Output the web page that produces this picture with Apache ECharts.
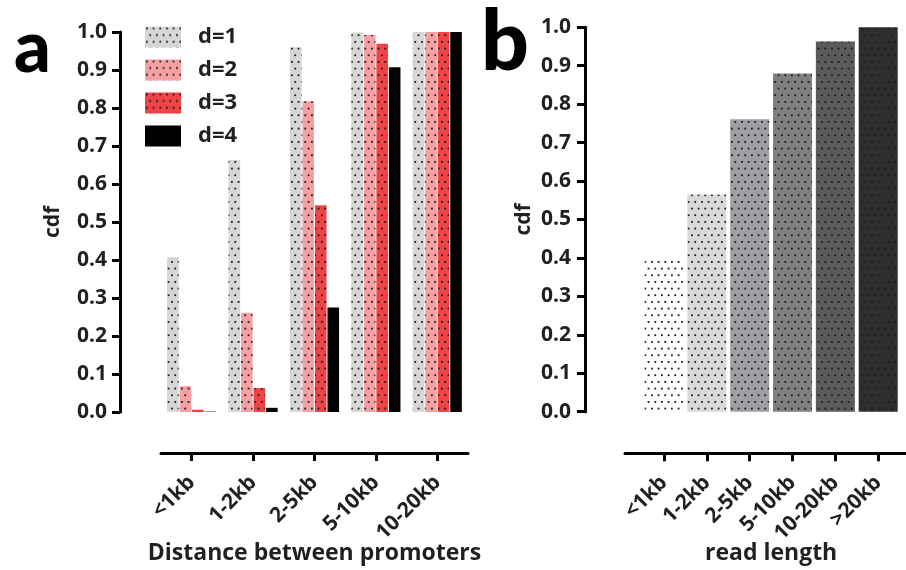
<!DOCTYPE html>
<html>
<head>
<meta charset="utf-8">
<script src="https://cdn.jsdelivr.net/npm/echarts@6/dist/echarts.min.js"></script>
<style>
  html, body { margin: 0; padding: 0; background: #fff; }
  #chart { width: 906px; height: 570px; }
</style>
</head>
<body>
<div id="chart"></div>
<script>
// Panel a: cumulative distribution by promoter distance, one series per d
const distanceCats = ['<1kb', '1-2kb', '2-5kb', '5-10kb', '10-20kb'];
const cdfD1 = [0.407, 0.663, 0.960, 0.999, 1.000];
const cdfD2 = [0.068, 0.261, 0.818, 0.992, 1.000];
const cdfD3 = [0.006, 0.063, 0.544, 0.969, 1.000];
const cdfD4 = [0.001, 0.011, 0.275, 0.907, 1.000];
const seriesNames = ['d=1', 'd=2', 'd=3', 'd=4'];

// Panel b: cumulative distribution by read length
const readCats = ['<1kb', '1-2kb', '2-5kb', '5-10kb', '10-20kb', '>20kb'];
const cdfRead = [0.396, 0.565, 0.761, 0.880, 0.963, 1.000];

// Fill shades
const shadesA = ['#d6d6d6', '#f5a1a3', '#ee4447', '#000000'];
const shadesB = ['#ffffff', '#d9d9d9', '#9e9ea3', '#808080', '#5b5b5c', '#2e2e2e'];

const FONT = '"Open Sans"';
const INK = '#231f20';

// Staggered dot texture over a solid background
function dotted(bg) {
  const c = document.createElement('canvas');
  c.width = 20; c.height = 40;
  const g = c.getContext('2d');
  g.fillStyle = bg;
  g.fillRect(0, 0, 20, 40);
  g.fillStyle = '#1c1c1c';
  const step = 20 / 3;
  for (let r = 0; r < 6; r++) {
    const y = 1 + r * step;
    const off = (r % 2) ? step / 2 : 0;
    for (let k = 0; k < 3; k++) {
      const x = 1 + off + k * step;
      g.fillRect(x, y, 1.8, 1.8);
    }
  }
  return { image: c, repeat: 'repeat' };
}

const fillA = [dotted(shadesA[0]), dotted(shadesA[1]), dotted(shadesA[2]), shadesA[3]];
const seriesA = [cdfD1, cdfD2, cdfD3, cdfD4].map((vals, i) => ({
  name: seriesNames[i],
  type: 'bar',
  xAxisIndex: 0,
  yAxisIndex: 0,
  data: vals,
  barGap: '8%',
  barCategoryGap: '20%',
  itemStyle: { color: fillA[i] },
  emphasis: { disabled: true }
}));

const seriesB = {
  type: 'bar',
  xAxisIndex: 1,
  yAxisIndex: 1,
  barCategoryGap: '9%',
  data: cdfRead.map((v, i) => ({ value: v, itemStyle: { color: dotted(shadesB[i]) } })),
  emphasis: { disabled: true }
};

const axisPen = { color: '#000', width: 3 };

function yAxisFor(grid, offset, gap, margin) {
  return {
    type: 'value',
    gridIndex: grid,
    offset: offset,
    min: 0,
    max: 1,
    interval: 0.1,
    axisLine: { show: true, onZero: false, lineStyle: axisPen },
    axisTick: { show: true, length: 8, lineStyle: axisPen },
    splitLine: { show: false },
    name: 'cdf',
    nameLocation: 'middle',
    nameRotate: 90,
    nameGap: gap,
    nameMoveOverlap: false,
    nameTextStyle: { fontFamily: FONT, fontWeight: 'bold', fontSize: 21, color: INK },
    axisLabel: {
      margin: margin,
      fontFamily: FONT, fontWeight: 'bold', fontSize: 21, color: INK,
      formatter: v => v.toFixed(1)
    }
  };
}

function xAxisFor(grid, cats, offset, title, showLine) {
  return {
    type: 'category',
    gridIndex: grid,
    data: cats,
    position: 'bottom',
    offset: offset,
    axisLine: { show: showLine, onZero: false, lineStyle: axisPen },
    axisTick: { show: true, alignWithLabel: true, length: 8, lineStyle: axisPen },
    name: title,
    nameLocation: 'middle',
    nameGap: 89,
    nameMoveOverlap: false,
    nameTextStyle: { fontFamily: FONT, fontWeight: 'bold', fontSize: 23, color: INK },
    axisLabel: {
      rotate: 45, interval: 0, margin: 26, padding: [6, 0, 0, 0],
      fontFamily: FONT, fontWeight: 'bold', fontSize: 21, color: INK
    }
  };
}

const chart = echarts.init(document.getElementById('chart'), null, { renderer: 'canvas' });
chart.setOption({
  animation: false,
  backgroundColor: '#ffffff',
  title: [
    { text: 'a', left: 9, top: 8, textStyle: { fontFamily: 'Lato', fontWeight: 900, fontSize: 72, color: '#000' } },
    { text: 'b', left: 476, top: -4, textStyle: { fontFamily: 'Lato', fontWeight: 900, fontSize: 84, color: '#000' } }
  ],
  legend: {
    data: seriesNames,
    orient: 'vertical',
    left: 140,
    top: 21,
    itemWidth: 36,
    itemHeight: 21,
    itemGap: 11,
    icon: 'rect',
    selectedMode: false,
    textStyle: { fontFamily: FONT, fontWeight: 'bold', fontSize: 22, color: INK, padding: [0, 0, 0, 12], lineHeight: 21 }
  },
  grid: [
    { left: 161, right: 438, top: 32, bottom: 158, outerBoundsMode: 'none' },
    { left: 642.6, right: 6.4, top: 27.3, bottom: 158.3, outerBoundsMode: 'none' },
    // wider frame that only carries the long baseline of panel b
    { left: 625, right: 0, top: 27.3, bottom: 158.3, outerBoundsMode: 'none' }
  ],
  xAxis: [
    xAxisFor(0, distanceCats, 41, 'Distance between promoters', true),
    xAxisFor(1, readCats, 41.6, 'read length', false),
    {
      type: 'category', gridIndex: 2, data: [''], offset: 41.6, position: 'bottom',
      axisLine: { show: true, onZero: false, lineStyle: axisPen },
      axisTick: { show: false }, axisLabel: { show: false }
    }
  ],
  yAxis: [
    yAxisFor(0, 41, 56, 13),
    yAxisFor(1, 57.6, 50, 14),
    { type: 'value', gridIndex: 2, show: false, min: 0, max: 1 }
  ],
  series: seriesA.concat([seriesB])
});
</script>
</body>
</html>
